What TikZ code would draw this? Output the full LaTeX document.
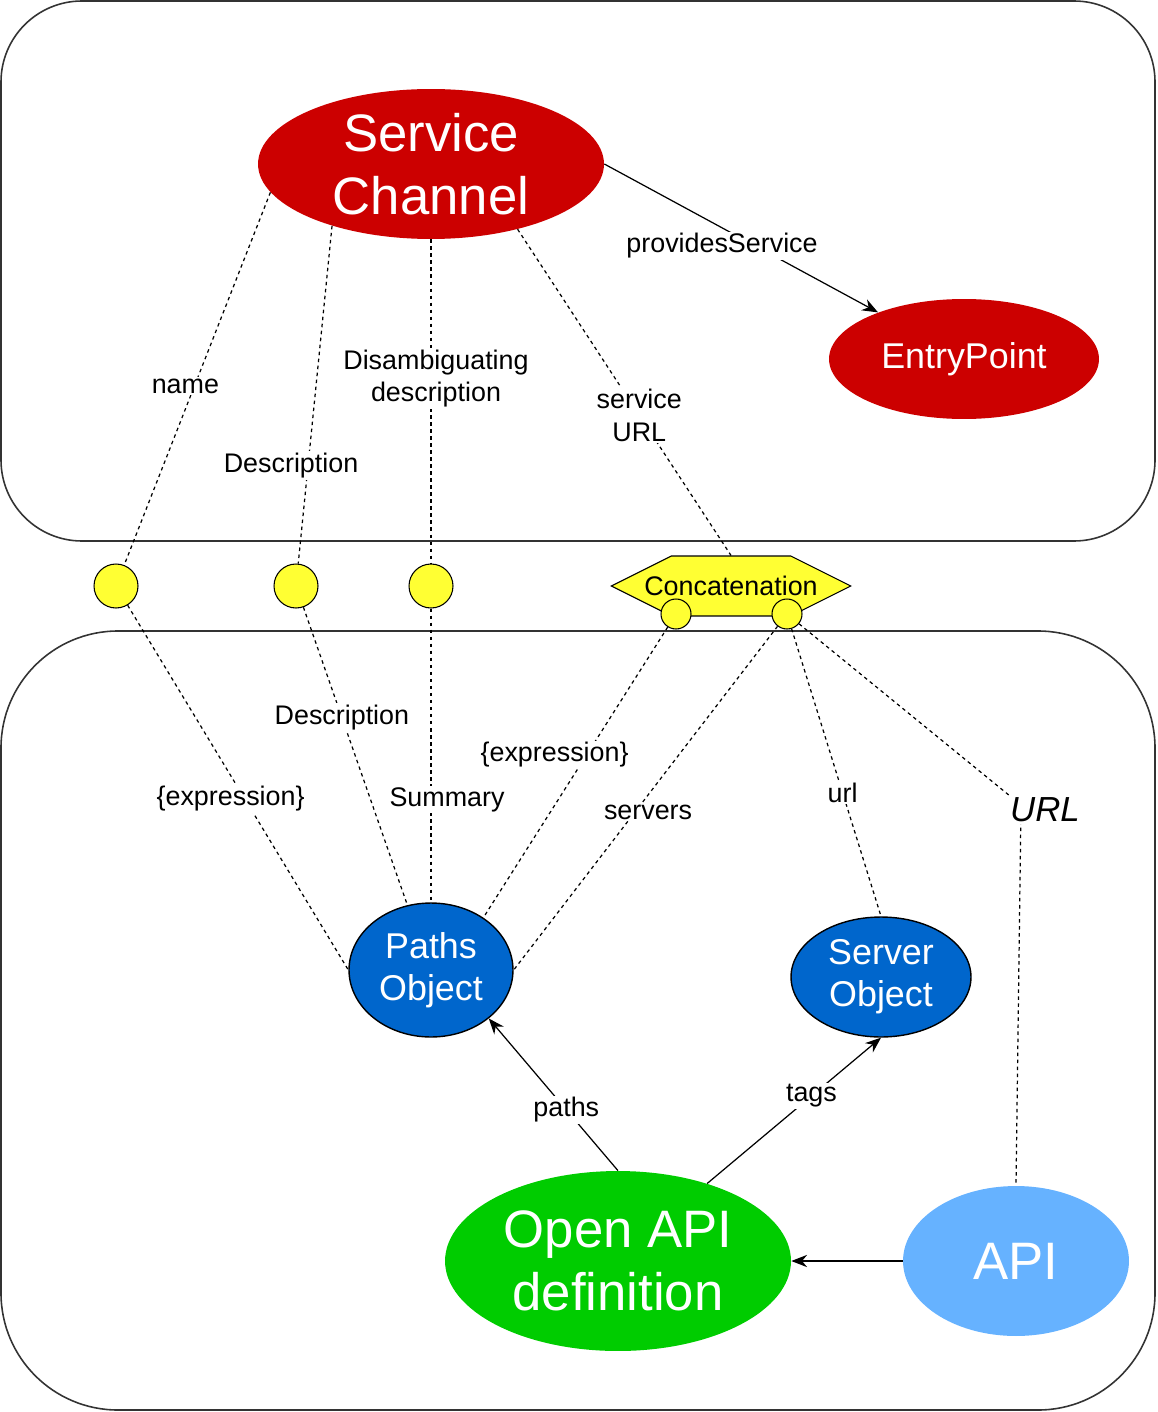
\documentclass[tikz,border=0pt]{standalone}
\usepackage{fontspec}
\setmainfont{Liberation Sans}
\usetikzlibrary{arrows.meta,shapes.geometric,shapes.symbols,positioning}
\definecolor{channelred}{HTML}{CC0000}
\definecolor{objectblue}{HTML}{0066CC}
\definecolor{apigreen}{HTML}{00CC00}
\definecolor{apiblue}{HTML}{66B2FF}
\definecolor{dotyellow}{HTML}{FFFF33}
\begin{document}
\begin{tikzpicture}[x=0.02cm, y=-0.02cm,
  box/.style={draw=black!80, line width=0.9pt, rounded corners=#1},
  thing/.style={ellipse, inner sep=0pt, text=white},
  big/.style={font=\fontsize{30}{35.7}\selectfont, align=center},
  mid/.style={font=\fontsize{20.4}{24}\selectfont, align=center},
  dot/.style={circle, draw, fill=dotyellow, line width=0.6pt, inner sep=0pt, minimum size=0.88cm},
  lbl/.style={fill=white, inner sep=1pt, text=black, align=center, font=\fontsize{15.3}{18.5}\selectfont},
  link/.style={dash pattern=on 2pt off 2pt, line width=0.7pt},
  rel/.style={-{Stealth[length=9pt,width=7pt]}, line width=0.7pt}]
\useasboundingbox (0,0) rectangle (1157,1412);
\draw[box=1.62cm] (1,1) rectangle (1155,541);
\draw[box=2.34cm] (1,631) rectangle (1155,1410);

\node[thing, big, fill=channelred, minimum width=6.92cm, minimum height=3cm, inner ysep=-3pt] (ServiceChannel) at (431,164) {Service\\Channel};
\node[thing, mid, fill=channelred, minimum width=5.4cm, minimum height=2.4cm] (EntryPoint) at (964,359) {EntryPoint};
\node[dot] (NameDot) at (116,586) {};
\node[dot] (DescriptionDot) at (296,586) {};
\node[dot] (SummaryDot) at (431,586) {};
\node[signal, signal to=west and east, signal pointer angle=53.13, draw, fill=dotyellow, line width=0.6pt, inner ysep=0pt, inner xsep=-0.54cm, minimum height=1.2cm, font=\fontsize{15.3}{18.5}\selectfont] (Concatenation) at (731,586) {Concatenation};
\node[dot, minimum size=0.6cm] (ConcatLeft) at (676,614) {};
\node[dot, minimum size=0.6cm] (ConcatRight) at (787,614) {};
\node[thing, mid, draw=black, line width=0.8pt, fill=objectblue, minimum width=3.28cm, minimum height=2.68cm] (PathsObject) at (431,970) {Paths\\Object};
\node[thing, mid, draw=black, line width=0.8pt, fill=objectblue, minimum width=3.6cm, minimum height=2.4cm] (ServerObject) at (881,977) {Server\\Object};
\node[thing, big, fill=apigreen, minimum width=6.92cm, minimum height=3.6cm] (OpenAPI) at (618,1261) {Open API\\definition};
\node[thing, big, fill=apiblue, minimum width=4.52cm, minimum height=3cm] (API) at (1016,1261) {API};
\coordinate (URLBend) at (1021,805);

\draw[rel] (ServiceChannel.east) -- node[lbl, pos=0.43, yshift=-0.36cm] {providesService} (EntryPoint);
\draw[link] (ServiceChannel.190) -- node[lbl, pos=0.52, xshift=-0.18cm] {name} (NameDot);
\draw[link] (ServiceChannel.212) -- node[lbl, pos=0.71, xshift=-0.34cm] {Description} (DescriptionDot);
\draw[link] (ServiceChannel.south) -- node[lbl, pos=0.43, xshift=0.1cm] {Disambiguating\\description} (SummaryDot);
\draw[link] (ServiceChannel.-37.5) -- node[lbl, pos=0.57] {service\\URL} (Concatenation.north);

\draw[link] (NameDot) -- node[lbl, pos=0.53, xshift=-0.28cm] {\{expression\}} (PathsObject.west);
\draw[link] (DescriptionDot) -- node[lbl, pos=0.37] {Description} (PathsObject.110);
\draw[link] (SummaryDot) -- node[lbl, pos=0.65, xshift=0.32cm] {Summary} (PathsObject.north);
\draw[link] (ConcatLeft) -- node[lbl, pos=0.44, xshift=-0.64cm] {\{expression\}} (PathsObject.45);
\draw[link] (ConcatRight) -- node[lbl, pos=0.54, xshift=0.26cm] {servers} (PathsObject.east);
\draw[link] (ConcatRight) -- node[lbl, pos=0.57] {url} (ServerObject.north);
\draw[link] (ConcatRight) -- (URLBend) node[lbl, xshift=0.48cm, yshift=-0.1cm, font=\fontsize{19.8}{24}\selectfont\itshape] (URL) {URL} -- (API.north);

\draw[rel] (OpenAPI.north) -- node[lbl, pos=0.4] {paths} (PathsObject.-40);
\draw[rel] (OpenAPI.41) -- node[lbl, pos=0.6] {tags} (ServerObject.south);
\draw[rel] (API) -- (OpenAPI);
\end{tikzpicture}
\end{document}
